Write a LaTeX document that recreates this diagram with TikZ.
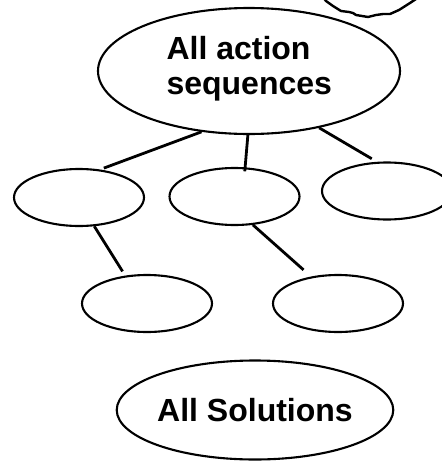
\documentclass[tikz,border=0pt]{standalone}
\usepackage{fontspec}
\setmainfont{Liberation Sans}
\usetikzlibrary{shapes.geometric}
\begin{document}
\begin{tikzpicture}[x=1pt,y=-1pt,
  oval/.style={draw,ellipse,line width=2.1pt,inner sep=0pt},
  small/.style={oval,minimum width=130pt,minimum height=57pt},
  link/.style={line width=2.8pt},
  lbl/.style={font=\bfseries\fontsize{32}{35}\selectfont}]
\useasboundingbox (0,0) rectangle (442,461);
\clip (0,0) rectangle (442,461);
% top-right blob (partially visible)
\draw[line width=2.4pt,line join=round] (322,-4) -- (326,1) -- (333,6) -- (341,11) -- (349,12) -- (353,13) -- (356,15) -- (362,16) -- (368,17) -- (372,16) -- (376,15) -- (383,14) -- (390,14) -- (399,10) -- (410,3) -- (419,-3);
% main ellipse
\node[oval,minimum width=302pt,minimum height=126pt] (big) at (249,71) {};
\node[lbl,align=left,anchor=north west] (bigtxt) at (163,33) {All action\\sequences};
% middle row
\node[small] (l1) at (79,197.5) {};
\node[small] (m1) at (234.5,196.5) {};
\node[small] (r1) at (387,191) {};
% bottom row
\node[small] (l2) at (147,303.5) {};
\node[small] (m2) at (338,303.5) {};
% solutions
\node[oval,lbl,minimum width=230pt,minimum height=99pt] (sol) at (255,410) {All Solutions};
% connectors
\draw[link,shorten >=4pt] (big.232) -- (l1.53);
\draw[link,shorten >=-4pt] (big.269) -- (m1.70);
\draw[link,shorten >=6pt] (big.321.5) -- (r1.109);
\draw[link,shorten >=5pt] (l1.298.5) -- (l2.128.4);
\draw[link,shorten >=10pt] (m1.303) -- (m2.135.4);
\end{tikzpicture}
\end{document}
